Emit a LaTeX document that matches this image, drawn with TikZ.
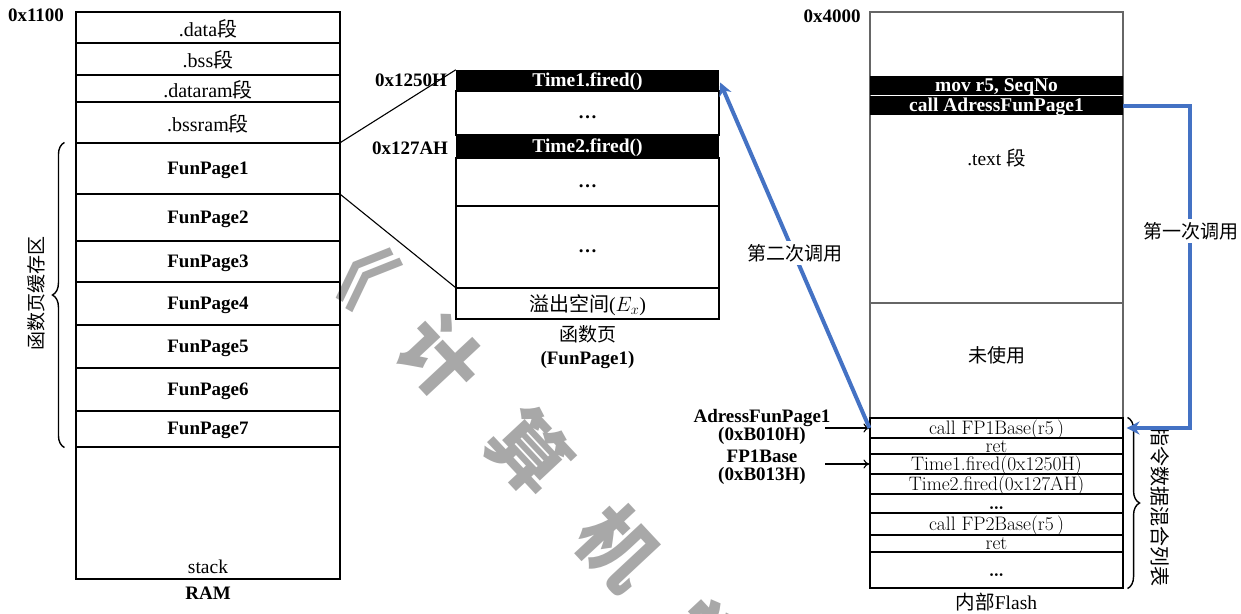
\documentclass[tikz,border=0pt]{standalone}
\usepackage{fontspec}
\setmainfont{Liberation Serif}
\newfontfamily\cjk{Noto Sans CJK SC}
\newfontfamily\lmr{Latin Modern Roman}
\usetikzlibrary{arrows.meta,decorations.pathreplacing}
\definecolor{callblue}{HTML}{4472C4}
\definecolor{wmgray}{HTML}{A8A8A8}
\definecolor{flashgray}{HTML}{666666}
\newcommand\setfs[1]{\fontsize{#1}{#1}\selectfont}
\begin{document}
\begin{tikzpicture}[x=1pt,y=-1pt,
  box/.style={draw=black, line width=1.1pt, inner sep=0pt},
  ramrow/.style={box, minimum width=264pt, font=\setfs{20}, text height=17pt, text depth=0pt},
  pagerow/.style={box, minimum width=264pt, font=\setfs{19}\bfseries, text height=11pt, text depth=0pt},
  midrow/.style={box, minimum width=263pt, font=\setfs{19}\bfseries, text height=10pt, text depth=0pt},
  blackrow/.style={fill=black, text=white, inner sep=0pt, text height=11pt, text depth=0pt, font=\setfs{19.5}\bfseries},
  flrow/.style={box, minimum width=253pt, font=\lmr\setfs{19.5}, text height=12pt, text depth=0pt},
  lbl/.style={inner sep=0pt, font=\setfs{19.5}, text height=12pt, text depth=0pt},
  blbl/.style={inner sep=0pt, font=\setfs{19}\bfseries, text height=12.5pt, text depth=0pt},
  clbl/.style={inner sep=1pt, font=\cjk\setfs{19}},
  wm/.style={inner sep=0pt, text=wmgray, rotate=-47, font=\cjk\bfseries\setfs{78}},
  bluearrow/.style={draw=callblue, line width=4pt, -{Stealth[length=13pt,width=13pt]}},
  blackarrow/.style={draw=black, line width=1.1pt, -{To[length=6pt,width=9pt]}},
  bracestyle/.style={draw=black, line width=1.4pt, decorate, decoration={brace, amplitude=12pt}}
]
\useasboundingbox (0,0) rectangle (1241,613);
\fill[white] (0,0) rectangle (1241,613);

% watermark
\node[wm] (wmark) at (530,452) {《\hspace{52pt}计\hspace{52pt}算\hspace{52pt}机\hspace{52pt}学};

% RAM column
\node[ramrow, minimum height=31pt] (data) at (208,27.5) {.data{\cjk 段}};
\node[ramrow, minimum height=32pt] (bss) at (208,59) {.bss{\cjk 段}};
\node[ramrow, minimum height=27pt] (dataram) at (208,88.5) {.dataram{\cjk 段}};
\node[ramrow, minimum height=41pt] (bssram) at (208,122.5) {.bssram{\cjk 段}};
\node[pagerow, minimum height=51pt] (fp1) at (208,168.5) {FunPage1};
\node[pagerow, minimum height=47pt] (fp2) at (208,217.5) {FunPage2};
\node[pagerow, minimum height=41pt] (fp3) at (208,261.5) {FunPage3};
\node[pagerow, minimum height=43pt] (fp4) at (208,303.5) {FunPage4};
\node[pagerow, minimum height=43pt] (fp5) at (208,346.5) {FunPage5};
\node[pagerow, minimum height=43pt] (fp6) at (208,389.5) {FunPage6};
\node[pagerow, minimum height=36pt] (fp7) at (208,429) {FunPage7};
\node[ramrow, minimum height=132pt] (stackrow) at (208,513) {};
\node[lbl] (stacklbl) at (208,567) {stack};
\node[blbl] (ramlbl) at (208,593) {RAM};
\node[blbl] (addr1100) at (36,15) {0x1100};

\draw[bracestyle] ([xshift=-11pt]fp7.south west) -- ([xshift=-11pt]fp1.north west);
\node[clbl, rotate=90] (cachelbl) at (36,293) {函数页缓存区};

% function page
\node[blackrow, minimum width=263pt, minimum height=21pt] (t1) at (587.5,80.5) {Time1.fired()};
\node[midrow, minimum height=44pt] (d1) at (587.5,113) {…};
\node[blackrow, minimum width=263pt, minimum height=23pt] (t2) at (587.5,146.5) {Time2.fired()};
\node[midrow, minimum height=48pt] (d2) at (587.5,182) {…};
\node[midrow, minimum height=82pt] (d3) at (587.5,247) {…};
\node[box, minimum width=263pt, minimum height=31pt, font=\setfs{20}, text height=15pt, text depth=0pt] (ov) at (587.5,303.5) {{\cjk 溢出空间}($E_x$)};
\draw[line width=1.1pt] (d1.north west) -- (d1.south west) (d1.north east) -- (d1.south east);
\node[clbl] (fplbl) at (587.5,334) {函数页};
\node[blbl] (fplbl2) at (587.5,358) {(FunPage1)};
\node[blbl] (a1250) at (411,80) {0x1250H};
\node[blbl] (a127a) at (410,148) {0x127AH};

\draw[line width=1.1pt] (fp1.north east) -- (t1.north west);
\draw[line width=1.1pt] (fp1.south east) -- (ov.north west);

% flash
\node[draw=flashgray, line width=1.2pt, minimum width=253pt, minimum height=291pt, inner sep=0pt] (ftop) at (996.5,157.5) {};
\node[lbl] (textseg) at (996.5,159) {.text {\cjk 段}};
\node[draw=flashgray, line width=1.2pt, minimum width=253pt, minimum height=115pt, inner sep=0pt] (funused) at (996.5,360.5) {};
\node[clbl] (unusedlbl) at (996.5,355) {未使用};
\node[blackrow, minimum width=253pt, minimum height=19pt] (b1) at (996.5,85.5) {mov r5, SeqNo};
\node[blackrow, minimum width=253pt, minimum height=19pt] (b2) at (996.5,105.5) {call AdressFunPage1};
\node[blbl] (a4000) at (832,16) {0x4000};

\node[flrow, minimum height=20pt] (r1) at (996.5,428) {call FP1Base(r5\,)};
\node[flrow, minimum height=16pt] (r2) at (996.5,446) {ret};
\node[flrow, minimum height=20pt] (r3) at (996.5,464) {Time1.fired(0x1250H)};
\node[flrow, minimum height=20pt] (r4) at (996.5,484) {Time2.fired(0x127AH)};
\node[flrow, minimum height=19pt] (r5) at (996.5,503.5) {\textbf{…}};
\node[flrow, minimum height=22pt] (r6) at (996.5,524) {call FP2Base(r5\,)};
\node[flrow, minimum height=17pt] (r7) at (996.5,543.5) {ret};
\node[flrow, minimum height=36pt] (r8) at (996.5,570) {\textbf{…}};
\node[lbl] (flashlbl) at (996.5,603) {{\cjk 内部}Flash};

\draw[bracestyle] ([xshift=4pt]r1.north east) -- ([xshift=4pt]r8.south east);
\node[clbl, rotate=-90, font=\cjk\setfs{20}] (listlbl) at (1160,506) {指令数据混合列表};

% address arrows
\node[blbl] (afp) at (762,416) {AdressFunPage1};
\node[blbl] (afpa) at (762,434) {(0xB010H)};
\node[blbl] (fpb) at (762,456) {FP1Base};
\node[blbl] (fpba) at (762,474) {(0xB013H)};
\coordinate (s1) at (825,428);
\coordinate (s2) at (825,464);
\draw[blackarrow] (s1) -- (r1.west);
\draw[blackarrow] (s2) -- (r3.west);

% blue calls
\draw[bluearrow] (b2.east) -- ++(67,0) |- ([xshift=3pt]r1.east);
\node[clbl, fill=white, inner sep=3pt] (call1) at (1191,231) {第一次调用};
\draw[bluearrow] (r1.west) -- ([xshift=1pt,yshift=-2pt]t1.east);
\node[clbl, fill=white, inner sep=3pt] (call2) at (795,253) {第二次调用};
\end{tikzpicture}
\end{document}
